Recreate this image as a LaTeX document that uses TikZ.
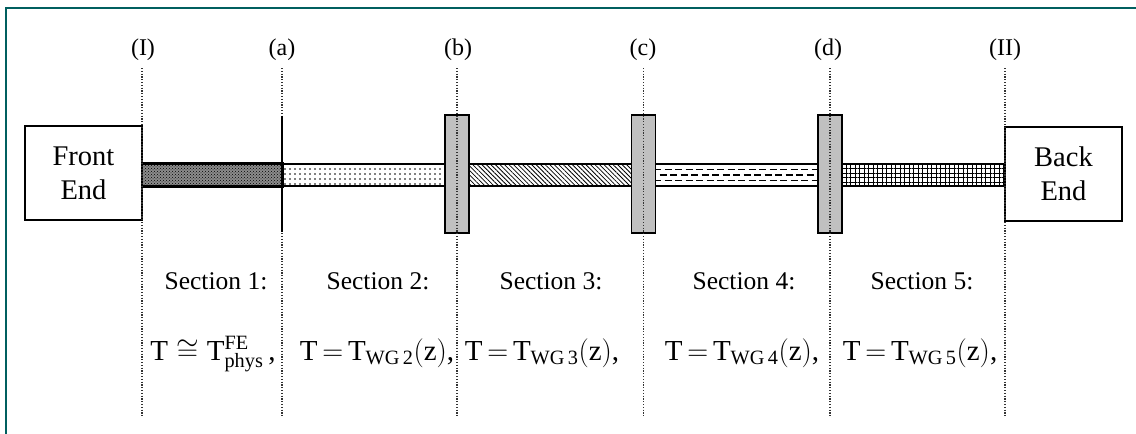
\documentclass[tikz,border=0pt]{standalone}
\usepackage{fix-cm}
\usepackage{fontspec}
\setmainfont{Liberation Serif}
\usetikzlibrary{patterns,patterns.meta,calc}
\definecolor{framecol}{RGB}{0,95,95}
\definecolor{flangegray}{RGB}{192,192,192}
\begin{document}
\begin{tikzpicture}[x=1pt,y=-1pt,
  wg/.style={draw,line width=1.6pt,rectangle,inner sep=0pt,minimum height=22pt},
  flange/.style={draw,line width=1.6pt,fill=flangegray,rectangle,inner sep=0pt,minimum width=24pt,minimum height=118pt},
  endbox/.style={draw,line width=1.6pt,fill=white,rectangle,inner sep=0pt,minimum width=117pt,minimum height=94pt,align=center,font=\fontsize{28.5}{34}\selectfont},
  planelab/.style={font=\fontsize{24}{28}\selectfont},
  seclab/.style={font=\fontsize{25.5}{30}\selectfont},
  formula/.style={anchor=base,font=\fontsize{29}{34}\selectfont},
  guide/.style={black!80,line width=1.2pt,dash pattern=on 1.2pt off 1.6pt},
  dashrow/.style={black,line width=1.1pt,dash pattern=on 7pt off 3.5pt}]
\useasboundingbox (0,0) rectangle (1136,434);
% frame
\draw[framecol,line width=2.5pt] (6,434) -- (6,8) -- (1136,8);
% waveguide sections
\node[wg,minimum width=140pt,fill=black!45,postaction={pattern=crosshatch dots,pattern color=black}] (s1) at (212,175) {};
\node[wg,minimum width=163pt,pattern={Dots[distance=5pt,radius=0.8pt]},pattern color=black] (s2) at (363.5,175) {};
\node[wg,minimum width=163pt,pattern={Lines[angle=-45,distance=3.2pt,line width=0.8pt]}] (s3) at (550.5,175) {};
\node[wg,minimum width=163pt] (s4) at (736.5,175) {};
\node[wg,minimum width=163pt,pattern={Hatch[distance=4.5pt,line width=0.8pt]}] (s5) at (923.5,175) {};
\draw[dashrow] ($(s4.north west)!0.25!(s4.south west)$) -- ($(s4.north east)!0.25!(s4.south east)$);
\draw[dashrow,dash phase=5pt] ($(s4.north west)!0.5!(s4.south west)$) -- ($(s4.north east)!0.5!(s4.south east)$);
\draw[dashrow] ($(s4.north west)!0.75!(s4.south west)$) -- ($(s4.north east)!0.75!(s4.south east)$);
\draw[line width=1.6pt] (s1.north west) rectangle (s1.south east);
% flanges
\node[flange] (fb) at (457,174) {};
\node[flange] (fc) at (643.5,174) {};
\node[flange] (fd) at (830,174) {};
% end boxes
\node[endbox] (fe) at (83.5,173) {Front\\End};
\node[endbox] (be) at (1063.5,174) {Back\\End};
% plane labels
\node[planelab] (pI) at (143,50) {(I)};
\node[planelab] (pa) at (282,50) {(a)};
\node[planelab] (pb) at (458,50) {(b)};
\node[planelab] (pc) at (643,50) {(c)};
\node[planelab] (pd) at (828,50) {(d)};
\node[planelab] (pII) at (1005,50) {(II)};
% guide lines
\coordinate (eI) at (142,416);
\coordinate (ea) at (282,416);
\coordinate (eb) at (457,416);
\coordinate (ec) at (643.5,416);
\coordinate (ed) at (830,416);
\coordinate (eII) at (1005,416);
\draw[guide] (142,68) -- (eI);
\draw[guide] (282,68) -- (ea);
\draw[guide] (457,68) -- (eb);
\draw[guide] (643.5,68) -- (ec);
\draw[guide] (830,68) -- (ed);
\draw[guide] (1005,68) -- (eII);
% solid line at (a)
\coordinate (at) at (282,116);
\coordinate (ab) at (282,232);
\draw[line width=1.6pt] (at) -- (ab);
% section labels
\node[seclab] (l1) at (216,281) {Section 1:};
\node[seclab] (l2) at (378,281) {Section 2:};
\node[seclab] (l3) at (551,281) {Section 3:};
\node[seclab] (l4) at (744,281) {Section 4:};
\node[seclab] (l5) at (922,281) {Section 5:};
% formulas
\node[formula] (f1) at (213,360) {$\mathrm{T}\cong\mathrm{T}^{\mathrm{FE}}_{\mathrm{phys}}$\,,};
\node[formula] (f2) at (377,360) {$\mathrm{T}\mkern-2mu=\mkern-2mu\mathrm{T}_{\mathrm{WG\,2}}\bigl(\mathrm{z}\bigr)$,};
\node[formula] (f3) at (542,360) {$\mathrm{T}\mkern-2mu=\mkern-2mu\mathrm{T}_{\mathrm{WG\,3}}\bigl(\mathrm{z}\bigr)$,};
\node[formula] (f4) at (742,360) {$\mathrm{T}\mkern-2mu=\mkern-2mu\mathrm{T}_{\mathrm{WG\,4}}\bigl(\mathrm{z}\bigr)$,};
\node[formula] (f5) at (920,360) {$\mathrm{T}\mkern-2mu=\mkern-2mu\mathrm{T}_{\mathrm{WG\,5}}\bigl(\mathrm{z}\bigr)$,};
\end{tikzpicture}
\end{document}
